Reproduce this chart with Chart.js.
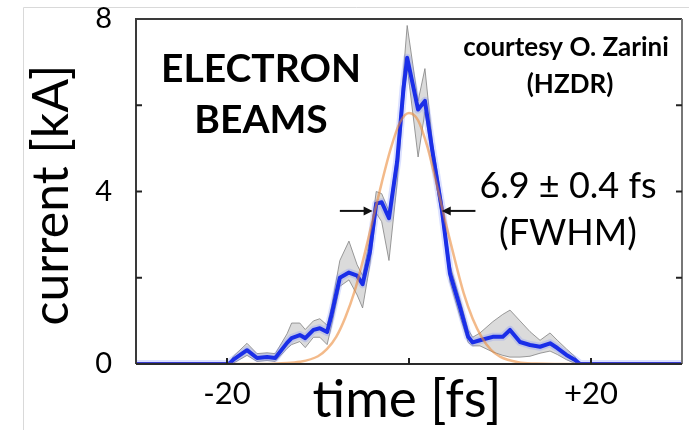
<!DOCTYPE html>
<html><head><meta charset="utf-8">
<script src="https://cdn.jsdelivr.net/npm/chart.js@4.4.1/dist/chart.umd.min.js"></script>
<style>html,body{margin:0;padding:0;background:#fff;}canvas{display:block;}</style>
</head><body>
<canvas id="c" width="689" height="430"></canvas>
<script>
// measured current profile (time in fs, current in kA)
const timeFs    = [-30,-19.8,-19.3,-17.8,-16.7,-15.6,-14.7,-13.4,-12.9,-12,-11.4,-10.5,-9.8,-9,-8.5,-7.6,-6.6,-5.7,-5.1,-4.3,-3.6,-3.0,-2.2,-1.3,-0.6,-0.2,1.0,1.75,2.6,3.6,4.5,5.6,6.5,7.0,7.8,9.2,10.3,11.1,12.2,13.3,14.4,15.5,16.3,17.3,18.2,18.8,30];
const currentKA = [0,0,0.1,0.32,0.14,0.16,0.14,0.49,0.6,0.67,0.6,0.79,0.83,0.74,1.15,2.0,2.12,2.05,1.85,2.6,3.72,3.75,3.38,4.7,6.4,7.1,5.9,6.1,4.9,3.6,2.1,1.32,0.63,0.5,0.55,0.63,0.63,0.79,0.51,0.44,0.4,0.48,0.37,0.21,0.1,0,0];
const bandUpper = [0,0,0.18,0.48,0.24,0.26,0.24,0.7,0.95,0.95,0.8,1.0,1.05,0.9,1.35,2.4,2.85,2.3,2.05,2.9,4.0,3.95,3.55,4.9,6.8,7.85,6.1,6.85,5.1,3.8,2.3,1.5,0.8,0.62,0.72,0.98,1.15,1.25,1.0,0.75,0.55,0.72,0.55,0.35,0.18,0,0];
const bandLower = [0,0,0.02,0.2,0.06,0.08,0.06,0.36,0.45,0.52,0.38,0.62,0.62,0.45,0.9,1.8,1.95,1.6,1.3,2.3,3.5,3.3,2.4,4.2,6.1,6.9,4.8,5.85,4.7,3.4,1.9,1.1,0.5,0.42,0.42,0.28,0.2,0.16,0.16,0.18,0.25,0.3,0.22,0.1,0.02,0,0];
// gaussian fit curve
const fitTime = [-30,-16,-14,-12,-10,-9,-8,-7,-6,-5,-4,-3,-2,-1,0,1,2,3,4,5,6,7,8,9,10,12,14,16,30];
const fitKA   = [0,0,0.02,0.05,0.18,0.35,0.63,1.08,1.67,2.45,3.33,4.2,5.0,5.6,5.82,5.65,5.05,4.2,3.3,2.45,1.65,1.05,0.62,0.33,0.17,0.04,0.01,0,0];
// axes
const xTickLabels = {"-20":"-20","20":"+20"};
const yTickLabels = {"0":"0","4":"4","8":"8"};
const xMarkTicks = [-20,0,20];
const yMarkTicks = [2,4,6];
// FWHM arrows (fs, kA)
const fwhmArrows = [{from:-7.6,to:-4.0,y:3.55},{from:7.3,to:3.6,y:3.55}];

const pts = (xs, ys) => xs.map((x,i)=>({x:x,y:ys[i]}));
const FONT = 'Lato, "Open Sans", sans-serif';
const noPad = s => { s.paddingTop = 0; s.paddingBottom = 0; s.paddingLeft = 0; s.paddingRight = 0; };

const deco = {
  id:'deco',
  beforeDraw(chart){
    const c = chart.ctx;
    c.save();
    c.strokeStyle = '#d9d9d9'; c.lineWidth = 1;
    c.beginPath(); c.moveTo(23.5, 430); c.lineTo(23.5, 7.5); c.lineTo(689, 7.5); c.stroke();
    c.restore();
  },
  afterDatasetsDraw(chart){
    const c = chart.ctx, a = chart.chartArea, xs = chart.scales.x, ys = chart.scales.y;
    c.save();
    c.lineWidth = 2;
    c.strokeStyle = '#3a3a3a';
    c.beginPath(); c.moveTo(a.left, a.bottom); c.lineTo(a.left, a.top); c.lineTo(a.right, a.top); c.stroke();
    c.strokeStyle = '#777';
    c.beginPath(); c.moveTo(a.right, a.top); c.lineTo(a.right, a.bottom); c.stroke();
    c.strokeStyle = '#2a2a2a';
    c.beginPath(); c.moveTo(a.left, a.bottom); c.lineTo(a.right, a.bottom); c.stroke();
    c.strokeStyle = '#222';
    yMarkTicks.forEach(v=>{
      const y = ys.getPixelForValue(v);
      c.beginPath(); c.moveTo(a.left, y); c.lineTo(a.left+6, y); c.stroke();
      c.beginPath(); c.moveTo(a.right, y); c.lineTo(a.right-6, y); c.stroke();
    });
    xMarkTicks.forEach(v=>{
      const x = xs.getPixelForValue(v);
      c.beginPath(); c.moveTo(x, a.bottom); c.lineTo(x, a.bottom-6); c.stroke();
    });
    c.strokeStyle = '#111'; c.fillStyle = '#111'; c.lineWidth = 2;
    fwhmArrows.forEach(ar=>{
      const x0 = xs.getPixelForValue(ar.from), x1 = xs.getPixelForValue(ar.to), y = ys.getPixelForValue(ar.y);
      const d = Math.sign(x1-x0);
      c.beginPath(); c.moveTo(x0, y); c.lineTo(x1 - d*6, y); c.stroke();
      c.beginPath(); c.moveTo(x1, y); c.lineTo(x1 - d*9, y-4.5); c.lineTo(x1 - d*9, y+4.5); c.closePath(); c.fill();
    });
    c.restore();
  },
  afterDraw(chart){
    const c = chart.ctx;
    c.save();
    c.fillStyle = '#000';
    c.textAlign = 'center'; c.textBaseline = 'middle';
    c.font = 'bold 39px ' + FONT;
    c.fillText('ELECTRON', 261, 69);
    c.fillText('BEAMS', 261, 120);
    c.font = 'bold 26px ' + FONT;
    c.fillText('courtesy O. Zarini', 566, 48);
    c.fillText('(HZDR)', 570, 85);
    c.font = '36px ' + FONT;
    c.fillText('6.9 \u00b1 0.4 fs', 568, 186);
    c.fillText('(FWHM)', 568, 233);
    c.font = '53px ' + FONT;
    c.fillText('time [fs]', 407, 400);
    c.font = '50px ' + FONT;
    c.translate(52, 195); c.rotate(-Math.PI/2);
    c.fillText('current [kA]', 0, 0);
    c.restore();
  }
};

new Chart(document.getElementById('c'), {
  type:'line',
  data:{ datasets:[
    {data:pts(timeFs,bandUpper), borderColor:'rgba(130,130,130,0.8)', borderWidth:1, backgroundColor:'rgba(200,200,200,0.65)', fill:'+1', pointRadius:0, order:5},
    {data:pts(timeFs,bandLower), borderColor:'rgba(130,130,130,0.8)', borderWidth:1, fill:false, pointRadius:0, order:4},
    {data:pts(timeFs,currentKA), borderColor:'rgba(110,130,255,0.25)', borderWidth:8, fill:false, pointRadius:0, order:3, borderJoinStyle:'round', borderCapStyle:'round'},
    {data:pts(timeFs,currentKA), borderColor:'#1a2ee8', borderWidth:4, fill:false, pointRadius:0, order:2, borderJoinStyle:'round'},
    {data:pts(fitTime,fitKA), borderColor:'rgba(235,140,60,0.6)', borderWidth:2.5, fill:false, pointRadius:0, order:1, tension:0.4, cubicInterpolationMode:'monotone'}
  ]},
  options:{
    responsive:false, animation:false, events:[],
    layout:{padding:{top:19,right:7,left:0,bottom:0}},
    plugins:{legend:{display:false}, tooltip:{enabled:false}},
    scales:{
      x:{type:'linear', min:-30, max:30, grid:{display:false}, border:{display:false},
        ticks:{stepSize:10, autoSkip:false, maxRotation:0, color:'#000', padding:3, font:{family:FONT,size:31},
          callback:v=> xTickLabels[String(v)] || ''},
        afterFit:s=>{s.height=66; noPad(s);}},
      y:{min:0, max:8, grid:{display:false}, border:{display:false},
        ticks:{stepSize:2, color:'#000', padding:16, font:{family:FONT,size:29},
          callback:v=> yTickLabels[String(v)] || ''},
        afterFit:s=>{s.width=136; noPad(s);}}
    }
  },
  plugins:[deco]
});
</script>
</body></html>
